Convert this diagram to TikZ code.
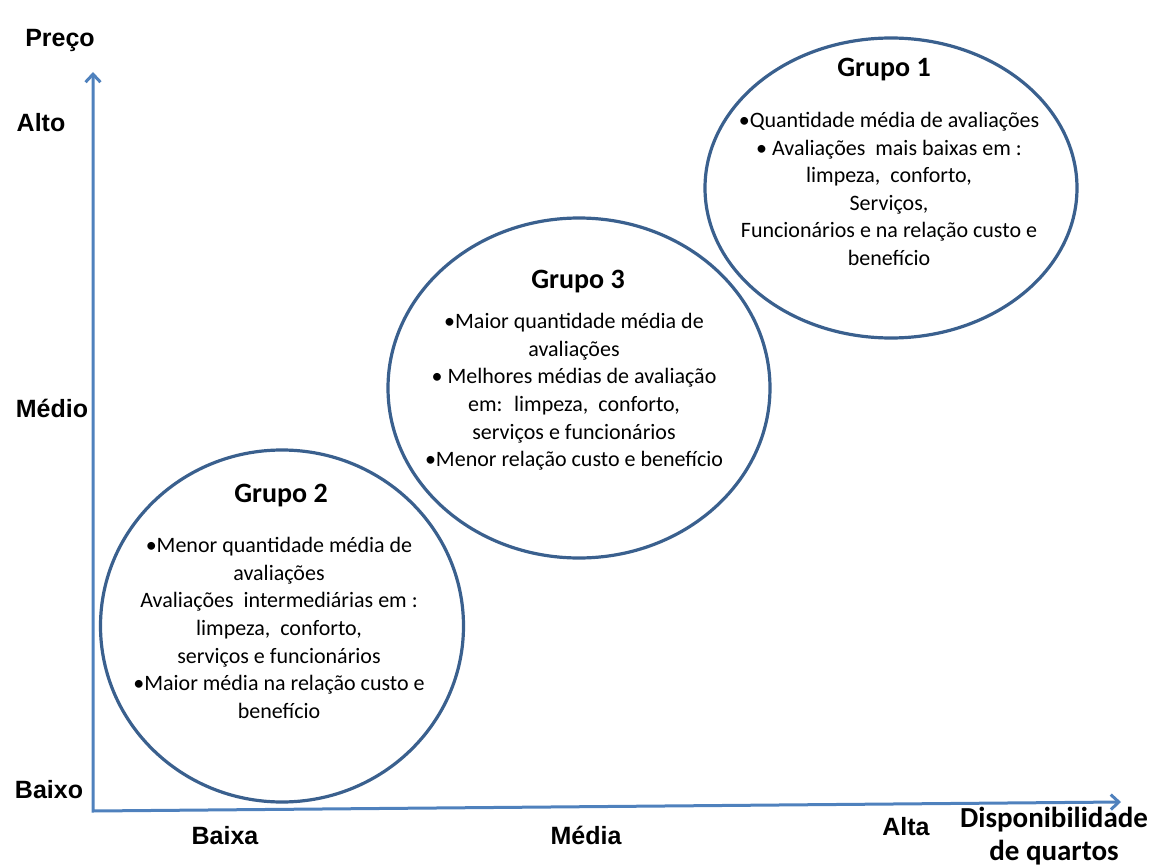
\documentclass[tikz,border=0pt]{standalone}
\usepackage{fontspec}
\setmainfont{Carlito}
\newfontfamily\arialfont{Liberation Sans}
\usetikzlibrary{shapes.geometric,arrows.meta}
\definecolor{axisblue}{RGB}{79,129,189}
\definecolor{ringblue}{RGB}{58,96,142}
\begin{document}
\begin{tikzpicture}[x=1pt,y=-1pt,
  ring/.style={ellipse, draw=ringblue, line width=3.2pt, inner sep=0pt},
  axisline/.style={draw=axisblue, line width=3pt, line join=miter,
    {Straight Barb[length=8pt,width=15pt]}-{Straight Barb[length=8pt,width=15pt]}},
  axlabel/.style={font=\arialfont\bfseries\fontsize{25}{30}\selectfont, inner sep=0pt},
  xname/.style={font=\bfseries\fontsize{29}{33}\selectfont, inner sep=0pt, align=center},
  grouptitle/.style={font=\bfseries\fontsize{28}{32}\selectfont, inner sep=0pt, anchor=base},
  body/.style={align=center, font=\fontsize{22}{27.6}\selectfont, inner sep=0pt}]
\useasboundingbox (0,0) rectangle (1157,867);

% axes
\coordinate (O) at (93,811);
\coordinate (ytip) at (93,72);
\coordinate (xtip) at (1121,802);
\draw[axisline] (ytip) -- (O) -- (xtip);

% axis labels
\node[axlabel] (preco) at (60,40) {Preço};
\node[axlabel] (alto) at (41,123) {Alto};
\node[axlabel] (medio) at (52,408) {Médio};
\node[axlabel] (baixo) at (49,790) {Baixo};
\node[axlabel] (baixa) at (225,836) {Baixa};
\node[axlabel] (media) at (586,835) {Média};
\node[axlabel] (alta) at (906,827) {Alta};
\node[xname] (disp) at (1054,836) {Disponibilidade\\[0pt]de quartos};

% group ellipses
\node[ring, minimum width=372pt, minimum height=300pt] (g1) at (891,188) {};
\node[ring, minimum width=382pt, minimum height=340pt] (g3) at (579,388) {};
\node[ring, minimum width=363pt, minimum height=352pt] (g2) at (282,626) {};

% Grupo 1
\node[grouptitle] (t1) at (884,77) {Grupo 1};
\node[body] (b1) at (889,189) {•Quantidade média de avaliações\\
• Avaliações\ \ mais baixas em :\\
limpeza,\ \ conforto,\\
Serviços,\\
Funcionários e na relação custo e\\
benefício};

% Grupo 3
\node[grouptitle] (t3) at (578,288) {Grupo 3};
\node[body] (b3) at (574,392) {•Maior quantidade média de\\
avaliações\\
• Melhores médias de avaliação\\
em: \ limpeza, \ conforto,\\
serviços e funcionários\\
•Menor relação custo e benefício};

% Grupo 2
\node[grouptitle] (t2) at (281,502) {Grupo 2};
\node[body] (b2) at (279,628) {•Menor quantidade média de\\
avaliações\\
Avaliações\ \ intermediárias em :\\
limpeza, \ conforto,\\
serviços e funcionários\\
•Maior média na relação custo e\\
benefício};
\end{tikzpicture}
\end{document}
